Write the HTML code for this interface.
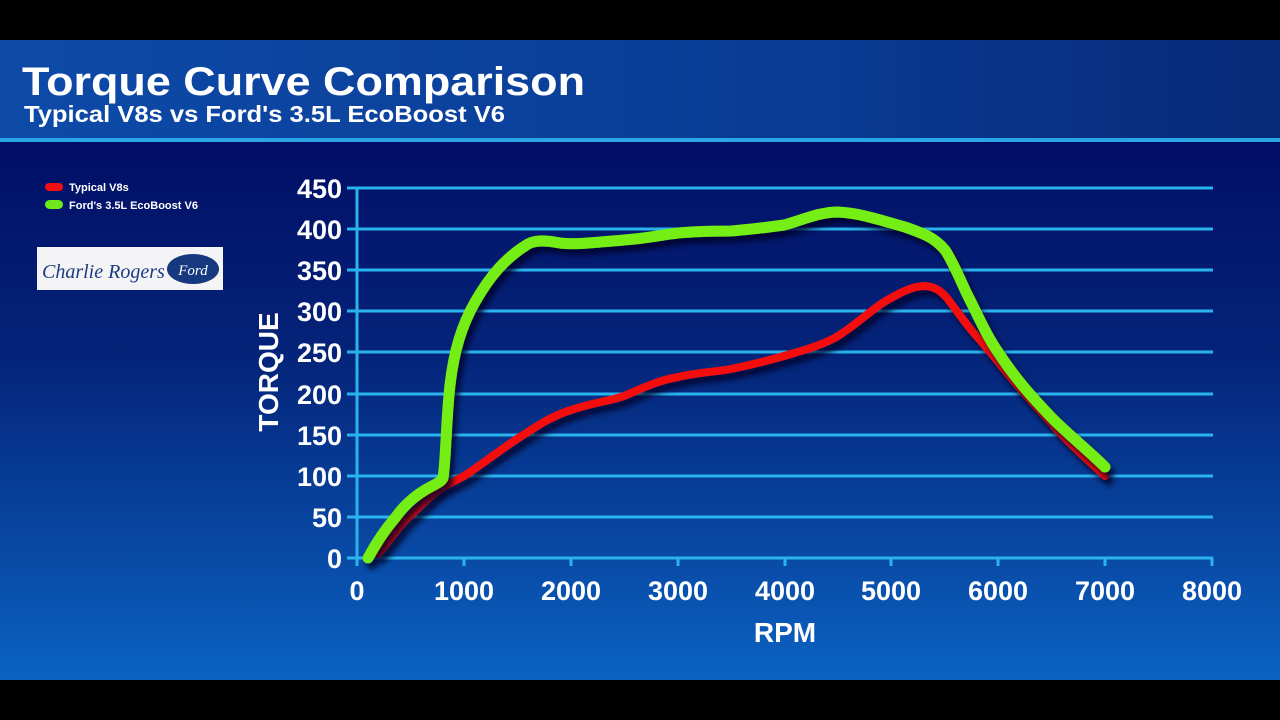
<!DOCTYPE html>
<html><head><meta charset="utf-8"><style>
html,body{margin:0;padding:0;background:#000;}
#w{position:relative;width:1280px;height:720px;overflow:hidden;background:#000;font-family:"Liberation Sans",sans-serif;}
</style></head><body><div id="w">
<svg width="1280" height="720" xmlns="http://www.w3.org/2000/svg" style="position:absolute;left:0;top:0">
<defs>
<linearGradient id="top" x1="0" y1="0" x2="1" y2="0"><stop offset="0" stop-color="#0d4aa8"/><stop offset="0.6" stop-color="#0a3c95"/><stop offset="1" stop-color="#062a78"/></linearGradient>
<linearGradient id="pan" x1="0" y1="0" x2="0" y2="1"><stop offset="0" stop-color="#020e66"/><stop offset="0.4" stop-color="#042479"/><stop offset="1" stop-color="#0b62c2"/></linearGradient>
<filter id="sh" x="-10%" y="-10%" width="120%" height="130%"><feDropShadow dx="4" dy="6" stdDeviation="3" flood-color="#000428" flood-opacity="0.8"/></filter>
</defs>
<rect x="0" y="40" width="1280" height="100" fill="url(#top)"/>
<rect x="0" y="140" width="1280" height="540" fill="url(#pan)"/>
<rect x="0" y="138" width="1280" height="4" fill="#2aa6e6"/>
<text x="22" y="95" fill="#fff" font-size="40" font-weight="bold" font-family="Liberation Sans" textLength="563" lengthAdjust="spacingAndGlyphs">Torque Curve Comparison</text>
<text x="24" y="122" fill="#fff" font-size="23" font-weight="bold" font-family="Liberation Sans" textLength="481" lengthAdjust="spacingAndGlyphs">Typical V8s vs Ford's 3.5L EcoBoost V6</text>
<rect x="45" y="183" width="18" height="8" rx="4" fill="#f01010"/>
<rect x="45" y="200" width="18" height="9" rx="4.5" fill="#6ee81a"/>
<text x="69" y="191" fill="#fff" font-size="11" font-weight="bold" font-family="Liberation Sans">Typical V8s</text>
<text x="69" y="209" fill="#fff" font-size="11" font-weight="bold" font-family="Liberation Sans">Ford's 3.5L EcoBoost V6</text>
<rect x="37" y="247" width="186" height="43" fill="#f4f4f6"/>
<text x="42" y="278" fill="#1d3b80" font-size="20" font-style="italic" font-family="Liberation Serif">Charlie Rogers</text>
<ellipse cx="193" cy="269" rx="26" ry="15" fill="#15387e"/>
<text x="193" y="275" fill="#fff" font-size="15" font-style="italic" text-anchor="middle" font-family="Liberation Serif">Ford</text>
<g stroke="#2ab4ee" stroke-width="3">
<line x1="347" y1="558" x2="1213" y2="558"/><line x1="347" y1="517" x2="1213" y2="517"/><line x1="347" y1="476" x2="1213" y2="476"/><line x1="347" y1="435" x2="1213" y2="435"/><line x1="347" y1="394" x2="1213" y2="394"/><line x1="347" y1="352" x2="1213" y2="352"/><line x1="347" y1="311" x2="1213" y2="311"/><line x1="347" y1="270" x2="1213" y2="270"/><line x1="347" y1="229" x2="1213" y2="229"/><line x1="347" y1="188" x2="1213" y2="188"/>
<line x1="357" y1="187" x2="357" y2="566"/>
<line x1="464" y1="558" x2="464" y2="566"/><line x1="571" y1="558" x2="571" y2="566"/><line x1="678" y1="558" x2="678" y2="566"/><line x1="785" y1="558" x2="785" y2="566"/><line x1="891" y1="558" x2="891" y2="566"/><line x1="998" y1="558" x2="998" y2="566"/><line x1="1105" y1="558" x2="1105" y2="566"/><line x1="1212" y1="558" x2="1212" y2="566"/>
</g>
<g fill="#fff" font-size="27" font-weight="bold" font-family="Liberation Sans" text-anchor="end">
<text x="342" y="568">0</text><text x="342" y="527">50</text><text x="342" y="486">100</text><text x="342" y="445">150</text><text x="342" y="404">200</text><text x="342" y="362">250</text><text x="342" y="321">300</text><text x="342" y="280">350</text><text x="342" y="239">400</text><text x="342" y="198">450</text>
</g>
<g fill="#fff" font-size="27" font-weight="bold" font-family="Liberation Sans" text-anchor="middle">
<text x="357" y="600">0</text><text x="464" y="600">1000</text><text x="571" y="600">2000</text><text x="678" y="600">3000</text><text x="785" y="600">4000</text><text x="891" y="600">5000</text><text x="998" y="600">6000</text><text x="1105" y="600">7000</text><text x="1212" y="600">8000</text>
<text x="785" y="642" font-size="28">RPM</text>
<text x="0" y="0" font-size="28" transform="translate(278,372) rotate(-90)">TORQUE</text>
</g>
<path filter="url(#sh)" fill="none" stroke="#f41010" stroke-width="8" stroke-linejoin="round" stroke-linecap="round" d="M378,554 C392,538 400,524 412,514 C425,502 432,494 442,488 C452,482 458,479 464,476 C485,462 500,450 517,439 C540,424 552,416 571,410 C595,402 610,401 624,396 C645,387 660,380 678,377 C700,372 715,372 731,369 C755,364 770,360 784,356 C805,350 825,344 838,336 C860,322 875,306 891,298 C905,290 915,286 925,286 C935,287 940,290 947,298 C960,315 970,330 980,340 C990,352 995,358 1000,364 C1020,390 1035,405 1052,424 C1070,445 1090,462 1105,476"/>
<path filter="url(#sh)" fill="none" stroke="#74ee12" stroke-width="11" stroke-linejoin="round" stroke-linecap="round" d="M368,558 C378,540 385,530 395,518 C405,504 415,496 425,490 C435,484 440,483 443,478 C446,460 446,420 450,385 C454,350 462,325 475,302 C490,276 505,258 528,244 C535,240 545,240 560,243 C575,245 600,242 624,240 C650,238 660,235 678,233 C700,231 715,231 731,231 C755,229 770,227 784,225 C805,219 820,212 838,212 C860,213 880,220 905,227 C925,234 935,238 945,250 C955,265 962,285 970,300 C980,320 988,338 998,352 C1015,378 1030,395 1052,418 C1070,436 1090,452 1105,467"/>
</svg>
</div></body></html>
